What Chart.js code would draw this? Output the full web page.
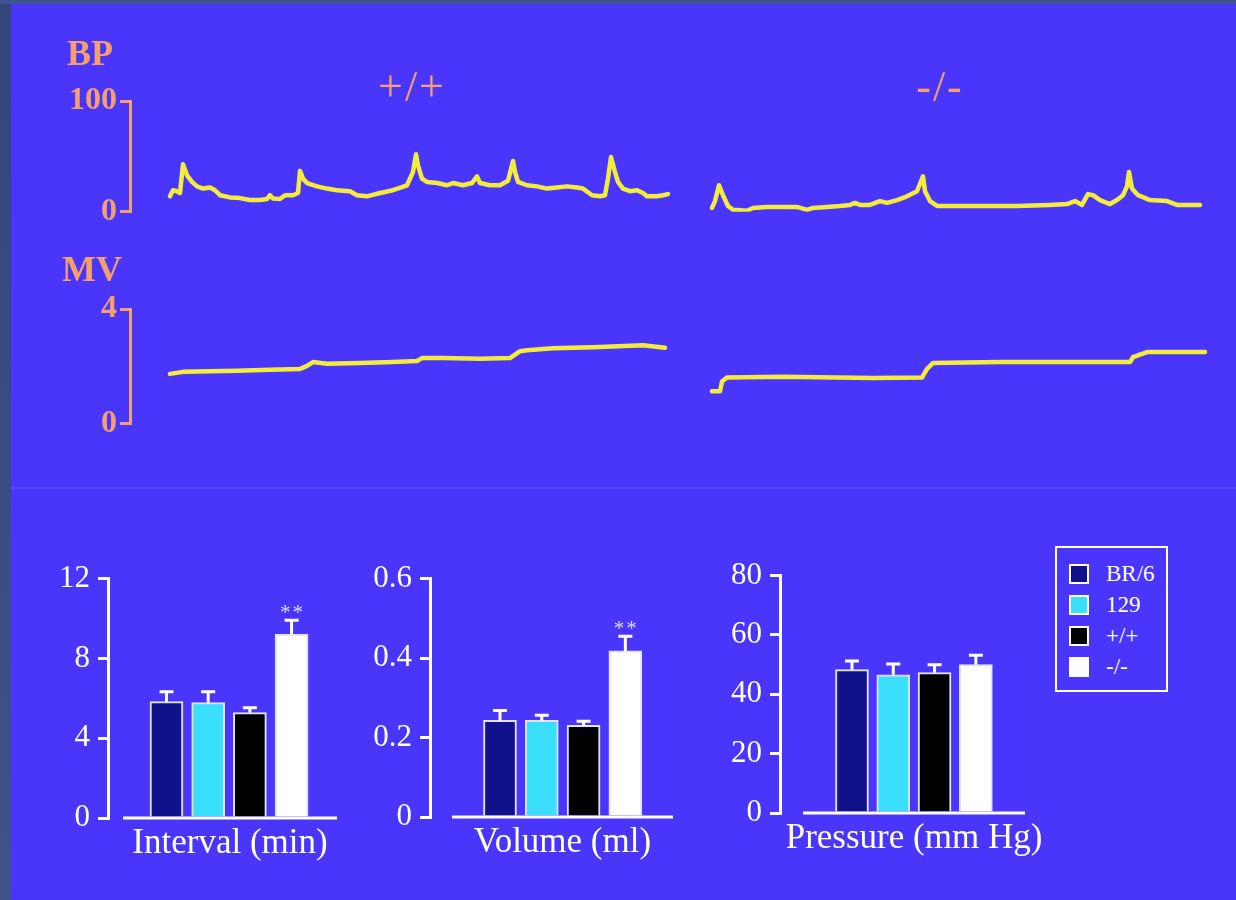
<!DOCTYPE html>
<html>
<head>
<meta charset="utf-8">
<script src="https://cdn.jsdelivr.net/npm/chart.js@4.4.1/dist/chart.umd.min.js"></script>
<style>
    body {
        margin: 0;
        width: 1236px;
        height: 900px;
        position: relative;
        overflow: hidden;
        background: #4a36fb;
        font-family: "Liberation Serif", serif;
    }
    .borde-izq { position: absolute; left: 0; top: 0; width: 11px; height: 900px; background: linear-gradient(#33467a, #3f528a); }
    .borde-sup { position: absolute; left: 0; top: 0; width: 1236px; height: 4px; background: #3f5590; }
    .divisor { position: absolute; left: 11px; top: 487px; width: 1225px; height: 2px; background: #5747ff; }
    canvas { position: absolute; }
    #leyenda {
        position: absolute;
        left: 1055px;
        top: 546px;
        width: 113px;
        height: 146px;
        box-sizing: border-box;
        border: 2px solid #ffffff;
        padding-top: 10px;
        color: #ffffff;
        font-size: 23px;
    }
    .fila { display: flex; align-items: center; height: 31px; }
    .muestra { width: 20px; height: 20px; box-sizing: border-box; border: 2px solid #ffffff; margin-left: 12px; margin-right: 17px; }
</style>
</head>
<body>
<div class="borde-izq"></div>
<div class="borde-sup"></div>
<div class="divisor"></div>

<canvas id="graficaBP" width="1150" height="204" style="left:67px; top:30px;"></canvas>
<canvas id="graficaMV" width="1155" height="200" style="left:62px; top:246px;"></canvas>
<canvas id="graficaIntervalo" width="311" height="311" style="left:28px; top:552px;"></canvas>
<canvas id="graficaVolumen" width="325" height="310" style="left:350px; top:552px;"></canvas>
<canvas id="graficaPresion" width="345" height="310" style="left:700px; top:549px;"></canvas>
<div id="leyenda"></div>

<script>
// Trazos: [tiempo (min desde el inicio del trazo), valor]
const bpWT = [
    [0, 14], [0.15, 19.5], [0.35, 18.6], [0.5, 17], [0.65, 43], [0.85, 33], [1.1, 27], [1.35, 23],
    [1.65, 21], [2.0, 22], [2.25, 19.5], [2.5, 15], [3.0, 13], [3.5, 12.4], [4.0, 10.6], [4.5, 10.6],
    [4.85, 11.5], [5.0, 15], [5.15, 12], [5.5, 11.5], [5.75, 15], [6.15, 15], [6.4, 17], [6.5, 37],
    [6.65, 30], [6.85, 26], [7.35, 23], [7.85, 21], [8.35, 19.5], [9.0, 18.6], [9.35, 15], [9.85, 14],
    [10.5, 17], [11.15, 19.5], [11.85, 24], [12.15, 36], [12.3, 52], [12.4, 42], [12.6, 30], [12.85, 27],
    [13.35, 26], [13.85, 24], [14.15, 26], [14.65, 24], [15.1, 26], [15.35, 32], [15.5, 26], [16.0, 24],
    [16.5, 24], [16.9, 28], [17.15, 46], [17.25, 36], [17.4, 27], [17.85, 24], [18.35, 23], [18.85, 21],
    [19.35, 22], [19.85, 23], [20.35, 22], [20.65, 21], [21.1, 15], [21.5, 14], [21.75, 15], [21.9, 30],
    [22.05, 49.5], [22.25, 36], [22.4, 27], [22.65, 21], [23.0, 18.6], [23.35, 19.5], [23.65, 17],
    [23.85, 14], [24.35, 14], [24.65, 15], [24.9, 16]
];

const bpKO = [
    [0, 3.5], [0.15, 9.7], [0.35, 24], [0.55, 15], [0.8, 5.3], [1.05, 1.8], [1.75, 0.9], [2.05, 3.5],
    [2.75, 4.4], [3.55, 4.4], [4.25, 4.4], [4.75, 1.8], [5.05, 3.5], [5.75, 4.4], [6.4, 5.3], [6.9, 6.2],
    [7.15, 8], [7.4, 6.2], [7.9, 6.2], [8.4, 9.7], [8.75, 8], [9.25, 10.6], [9.75, 14], [10.25, 18.6],
    [10.55, 32], [10.65, 18.6], [10.9, 9.7], [11.25, 5.3], [12.05, 5.3], [13.55, 5.3], [15.25, 5.3],
    [16.9, 6.2], [17.75, 7], [18.15, 9.7], [18.5, 6.2], [18.8, 16], [19.05, 15], [19.4, 10.6], [19.9, 7],
    [20.25, 10.6], [20.55, 15], [20.75, 23], [20.85, 36], [21.0, 21], [21.3, 15], [21.9, 10.6],
    [22.75, 9.7], [23.25, 6.2], [24.4, 6.2]
];

const mvWT = [
    [0, 1.74], [0.65, 1.81], [3.35, 1.85], [5.0, 1.88], [6.5, 1.91], [6.85, 2.02], [7.15, 2.15],
    [7.85, 2.09], [9.5, 2.12], [11.15, 2.15], [12.35, 2.19], [12.6, 2.29], [13.65, 2.29], [15.5, 2.27],
    [17.0, 2.29], [17.5, 2.53], [17.85, 2.56], [19.15, 2.63], [21.15, 2.67], [23.65, 2.74], [24.75, 2.65]
];

const mvKO = [
    [0, 1.13], [0.4, 1.13], [0.5, 1.47], [0.75, 1.61], [3.55, 1.64], [8.05, 1.6], [10.5, 1.61],
    [10.75, 1.91], [11.05, 2.12], [14.4, 2.15], [17.75, 2.15], [20.9, 2.15], [21.05, 2.32],
    [21.75, 2.5], [24.65, 2.5]
];

const trazos = ["+/+", "-/-"];

// Barras
const grupos = ["BR/6", "129", "+/+", "-/-"];
const intervaloMedia = [5.83, 5.78, 5.28, 9.21];
const intervaloError = [0.5, 0.55, 0.25, 0.7];
const volumenMedia = [0.243, 0.243, 0.231, 0.418];
const volumenError = [0.025, 0.013, 0.01, 0.037];
const presionMedia = [48.3, 46.6, 47.3, 50.0];
const presionError = [2.9, 3.6, 2.7, 3.2];
const intervaloSig = ["", "", "", "**"];
const volumenSig = ["", "", "", "**"];
const presionSig = ["", "", "", ""];

// Estilos
const NARANJA = "#f5a06c";
const AMARILLO = "#f3ec3a";
const BLANCO = "#ffffff";
const coloresGrupo = ["#10128c", "#3adffc", "#000000", "#ffffff"];
const inicioTrazo = [2.0, 29.1];          // posición de cada trazo en el eje de tiempo
const desplazEtiqueta = [-7, -16];        // px

Chart.defaults.font.family = '"Liberation Serif", serif';
Chart.defaults.animation = false;

// Etiquetas +/+ y -/- sobre los trazos
const etiquetasGenotipo = {
    id: "etiquetasGenotipo",
    afterDraw(chart, args, opts) {
        if (!opts.mostrar) return;
        const { ctx, chartArea, scales } = chart;
        ctx.save();
        ctx.font = '44px "Liberation Serif"';
        ctx.letterSpacing = "2px";
        ctx.fillStyle = NARANJA;
        ctx.textAlign = "center";
        ctx.textBaseline = "middle";
        chart.data.datasets.forEach((ds, i) => {
            const puntos = ds.data;
            const medio = (puntos[0].x + puntos[puntos.length - 1].x) / 2;
            const x = scales.x.getPixelForValue(medio) + desplazEtiqueta[i];
            ctx.fillText(ds.label, x, chartArea.top - 12);
        });
        ctx.restore();
    }
};

// Barras de error (solo hacia arriba) y asteriscos
const barrasError = {
    id: "barrasError",
    afterDatasetsDraw(chart, args, opts) {
        const { ctx, scales: { y } } = chart;
        const meta = chart.getDatasetMeta(0);
        const datos = chart.data.datasets[0].data;
        ctx.save();
        ctx.strokeStyle = BLANCO;
        ctx.lineWidth = 3;
        meta.data.forEach((barra, i) => {
            const yBase = y.getPixelForValue(datos[i].y);
            const yTope = y.getPixelForValue(datos[i].y + opts.error[i]);
            ctx.beginPath();
            ctx.moveTo(barra.x, yBase);
            ctx.lineTo(barra.x, yTope);
            ctx.moveTo(barra.x - 7, yTope);
            ctx.lineTo(barra.x + 7, yTope);
            ctx.stroke();
            if (opts.sig[i]) {
                ctx.font = '21px "Liberation Serif"';
                ctx.letterSpacing = "2px";
                ctx.fillStyle = "#dcdcff";
                ctx.textAlign = "center";
                ctx.textBaseline = "alphabetic";
                ctx.fillText(opts.sig[i], barra.x + 1, yTope - 1);
            }
        });
        ctx.restore();
    }
};

// Línea base separada del eje Y, con el título centrado sobre ella
const lineaBase = {
    id: "lineaBase",
    afterDatasetsDraw(chart, args, opts) {
        const { ctx, chartArea, scales: { y } } = chart;
        const y0 = y.getPixelForValue(0);
        const inicio = chartArea.left + opts.hueco;
        ctx.save();
        ctx.strokeStyle = BLANCO;
        ctx.lineWidth = 3;
        ctx.beginPath();
        ctx.moveTo(inicio, y0);
        ctx.lineTo(chartArea.right, y0);
        ctx.stroke();

        ctx.font = '35px "Liberation Serif"';
        ctx.fillStyle = BLANCO;
        ctx.textAlign = "center";
        ctx.textBaseline = "alphabetic";
        ctx.fillText(opts.titulo, (inicio + chartArea.right) / 2, y0 + 35);
        ctx.restore();
    }
};

// Crear gráfica de trazos
function crearTrazo(id, titulo, serieWT, serieKO, maxY, anchoEje, padTitulo, conEtiquetas) {

    const series = [serieWT, serieKO];

    return new Chart(document.getElementById(id), {
        type: "line",
        data: {
            datasets: series.map((serie, i) => ({
                label: trazos[i],
                data: serie.map(([t, v]) => ({ x: t + inicioTrazo[i], y: v })),
                borderColor: AMARILLO,
                borderWidth: 4.5,
                borderJoinStyle: "round",
                borderCapStyle: "round",
                pointRadius: 0,
                tension: 0,
                fill: false
            }))
        },
        options: {
            responsive: false,
            layout: { padding: { top: 0, right: 2, bottom: 20, left: 0 } },
            plugins: {
                legend: { display: false },
                tooltip: { enabled: false },
                title: {
                    display: true,
                    text: titulo,
                    align: "start",
                    color: NARANJA,
                    font: { size: 36, weight: "bold" },
                    padding: { top: 4, bottom: padTitulo }
                },
                etiquetasGenotipo: { mostrar: conEtiquetas }
            },
            scales: {
                x: { type: "linear", display: false, min: 0, max: 54.25 },
                y: {
                    min: 0,
                    max: maxY,
                    afterFit: s => { s.width = anchoEje; },
                    ticks: {
                        stepSize: maxY,
                        color: NARANJA,
                        padding: 3,
                        font: { size: 32, weight: "bold" }
                    },
                    border: { color: NARANJA, width: 3 },
                    grid: { drawOnChartArea: false, color: NARANJA, lineWidth: 3, tickLength: 10 }
                }
            }
        },
        plugins: [etiquetasGenotipo]
    });
}

// Crear gráfica de barras
function crearBarras(id, titulo, medias, errores, sig, maxY, paso, minX, maxX, hueco, altoX, margenDer) {

    return new Chart(document.getElementById(id), {
        type: "bar",
        data: {
            datasets: [{
                data: medias.map((v, i) => ({ x: i + 1, y: v })),
                backgroundColor: coloresGrupo,
                borderColor: "#e4e4ff",
                borderWidth: 2,
                barThickness: 33
            }]
        },
        options: {
            responsive: false,
            layout: { padding: { top: 24, right: margenDer, bottom: 0, left: 0 } },
            plugins: {
                legend: { display: false },
                tooltip: { enabled: false },
                barrasError: { error: errores, sig: sig },
                lineaBase: { hueco: hueco, titulo: titulo }
            },
            scales: {
                x: {
                    type: "linear",
                    offset: false,
                    min: minX,
                    max: maxX,
                    afterFit: s => { s.height = altoX; },
                    ticks: { display: false },
                    grid: { display: false, offset: false },
                    border: { display: false }
                },
                y: {
                    min: 0,
                    max: maxY,
                    afterFit: s => { s.width = 80; },
                    ticks: { stepSize: paso, color: BLANCO, padding: 8, font: { size: 31 } },
                    border: { color: BLANCO, width: 3 },
                    grid: { drawOnChartArea: false, color: BLANCO, lineWidth: 3, tickLength: 10 }
                }
            }
        },
        plugins: [barrasError, lineaBase]
    });
}

// Leyenda
function crearLeyenda() {
    const leyenda = document.getElementById("leyenda");
    grupos.forEach((g, i) => {
        leyenda.innerHTML += `
            <div class="fila">
                <div class="muestra" style="background:${coloresGrupo[i]}"></div>
                <span>${g}</span>
            </div>
        `;
    });
}

crearTrazo("graficaBP", "BP", bpWT, bpKO, 100, 63, 24, true);
crearTrazo("graficaMV", "MV", mvWT, mvKO, 4, 68, 15.8, false);

crearBarras("graficaIntervalo", "Interval (min)", intervaloMedia, intervaloError, intervaloSig, 12, 4, -0.403, 5.09, 15, 45, 2);
crearBarras("graficaVolumen", "Volume (ml)", volumenMedia, volumenError, volumenSig, 0.6, 0.2, -0.675, 5.14, 22, 45, 2);
crearBarras("graficaPresion", "Pressure (mm Hg)", presionMedia, presionError, presionSig, 80, 20, -0.743, 5.19, 23, 46, 20);

crearLeyenda();
</script>
</body>
</html>
